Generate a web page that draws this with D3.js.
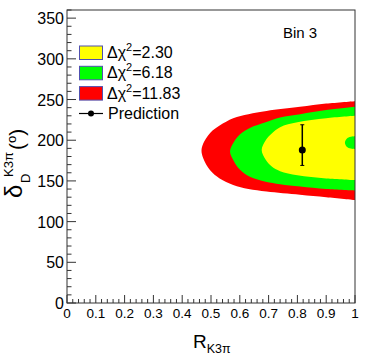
<!DOCTYPE html>
<meta charset="utf-8">
<head>
  <title>Bin 3 contours</title>
  <style>
    body { margin: 0; background: #fff; }
    text { font-family: "Liberation Sans", Arial, sans-serif; fill: #000; }
  </style>
</head>
<body>
<script src="https://cdn.jsdelivr.net/npm/d3@7"></script>
<div id="chart"></div>
<script>

// Contour outlines, as [R, delta] pairs.
// Each one runs along the lower edge from R=1 to the tip, then back along the top.
var red = [[1.0,126.5],[0.90,130],[0.809,133],[0.693,137],[0.63,140],[0.577,145],[0.53,153],[0.497,163],[0.473,178],
           [0.467,187],
           [0.473,196],[0.497,209],[0.53,218],[0.577,227],[0.63,232],[0.693,236],[0.809,241],[0.90,245],[1.0,248]];
var green = [[1.0,138],[0.90,140],[0.81,143],[0.74,146],[0.69,149],[0.635,155],[0.60,164],[0.58,174],
             [0.566,186],
             [0.58,198],[0.60,207],[0.635,215],[0.69,222],[0.74,228],[0.81,232],[0.90,237],[1.0,241]];
var yellow = [[1.0,151],[0.90,153],[0.80,157],[0.74,162],[0.71,168],[0.69,176],
              [0.676,188],
              [0.69,200],[0.71,208],[0.74,216],[0.80,222],[0.90,227],[1.0,230]];
// little green island inside the yellow near R=1
var greenSpot = [[1.0,189],[0.975,191],[0.965,197],[0.975,203],[1.0,205]];

var prediction = {R: 0.817, delta: 188, up: 219, down: 169};

var legendLabels = ["\u0394\u03c7", "\u0394\u03c7", "\u0394\u03c7"];
var legendValues = ["=2.30", "=6.18", "=11.83"];
var legendColors = ["#ffff00", "#00ff00", "#ff0000"];

var xTicks = [0, 0.1, 0.2, 0.3, 0.4, 0.5, 0.6, 0.7, 0.8, 0.9, 1];
var yTicks = [0, 50, 100, 150, 200, 250, 300, 350];

var width = 374, height = 357;
var padL = 67, padR = 355, padT = 10, padB = 303;

var svg = d3.select("#chart").append("svg")
    .attr("width", width)
    .attr("height", height);

var x = d3.scaleLinear().domain([0, 1]).range([padL, padR]);
var y = d3.scaleLinear().domain([0, 360]).range([padB, padT]);

svg.append("clipPath").attr("id", "frame")
  .append("rect").attr("x", padL).attr("y", padT).attr("width", padR - padL).attr("height", padB - padT);

var line = d3.line()
    .x(function(d) { return x(d[0]); })
    .y(function(d) { return y(d[1]); })
    .curve(d3.curveCatmullRom.alpha(0.5));

var plot = svg.append("g").attr("clip-path", "url(#frame)");

[[red, "#ff0000"], [green, "#00ff00"], [yellow, "#ffff00"], [greenSpot, "#00ff00"]].forEach(function(c) {
  plot.append("path")
    .attr("d", line(c[0]) + "Z")
    .attr("fill", c[1]);
});

// prediction point with error bar
var px = x(prediction.R);
svg.append("line").attr("x1", px).attr("x2", px)
  .attr("y1", y(prediction.up)).attr("y2", y(prediction.down))
  .attr("stroke", "#000").attr("stroke-width", 1.5);
[prediction.up, prediction.down].forEach(function(v) {
  svg.append("line").attr("x1", px - 2).attr("x2", px + 2)
    .attr("y1", y(v)).attr("y2", y(v))
    .attr("stroke", "#000").attr("stroke-width", 1);
});
svg.append("circle").attr("cx", px).attr("cy", y(prediction.delta)).attr("r", 3.5).attr("fill", "#000");

// frame
svg.append("rect").attr("x", padL).attr("y", padT)
  .attr("width", padR - padL).attr("height", padB - padT)
  .attr("fill", "none").attr("stroke", "#333").attr("stroke-width", 1);

// y axis ticks (pointing inward)
var yMinor = d3.range(0, 361, 10);
svg.append("g").selectAll("line").data(yMinor).enter().append("line")
  .attr("x1", padL).attr("x2", function(d) { return padL + (d % 50 === 0 ? 9 : 4.5); })
  .attr("y1", function(d) { return y(d); }).attr("y2", function(d) { return y(d); })
  .attr("stroke", "#333");
svg.append("g").selectAll("text").data(yTicks).enter().append("text")
  .attr("x", padL - 3).attr("y", function(d) { return y(d) + 6; })
  .attr("text-anchor", "end").style("font-size", "16px")
  .text(function(d) { return d; });

// x axis ticks
var xMinor = d3.range(0, 51).map(function(i) { return i / 50; });
svg.append("g").selectAll("line").data(xMinor).enter().append("line")
  .attr("x1", function(d) { return x(d); }).attr("x2", function(d) { return x(d); })
  .attr("y1", padB).attr("y2", function(d, i) { return padB - (i % 5 === 0 ? 8 : 4); })
  .attr("stroke", "#333");
svg.append("g").selectAll("text").data(xTicks).enter().append("text")
  .attr("x", function(d) { return x(d); }).attr("y", 318)
  .attr("text-anchor", "middle").style("font-size", "13.5px")
  .text(function(d) { return d; });

// x title
var xt = svg.append("text").attr("x", 193).attr("y", 348);
xt.append("tspan").style("font-size", "19px").text("R");
xt.append("tspan").attr("dy", 5).style("font-size", "12.5px").text("K3\u03c0");

// y title, rotated, centred on the axis
var yt = svg.append("g").attr("transform", "translate(0,198) rotate(-90)");
yt.append("text").attr("x", 0).attr("y", 22).style("font-size", "24px").text("\u03b4");
yt.append("text").attr("x", 15).attr("y", 30).style("font-size", "13px").text("D");
yt.append("text").attr("x", 21).attr("y", 13).style("font-size", "13px").text("K3\u03c0");
var par = yt.append("text").attr("x", 48).attr("y", 24).style("font-size", "21px");
par.append("tspan").text("(");
par.append("tspan").attr("dy", -8).style("font-size", "13px").text("o");
par.append("tspan").attr("dy", 8).text(")");

// Bin label
svg.append("text").attr("x", 283).attr("y", 38).style("font-size", "15px").text("Bin 3");

// legend
var leg = svg.append("g");
legendColors.forEach(function(c, i) {
  var yy = 46 + i * 20.3;
  leg.append("rect").attr("x", 79.5).attr("y", yy).attr("width", 23).attr("height", 13.5)
    .attr("fill", c).attr("stroke", "#5050b0").attr("stroke-width", 1);
  var t = leg.append("text").attr("x", 107).attr("y", yy + 12).style("font-size", "16px");
  t.append("tspan").text(legendLabels[i]);
  t.append("tspan").attr("dy", -7).style("font-size", "11px").text("2");
  t.append("tspan").attr("dy", 7).text(legendValues[i]);
});
leg.append("line").attr("x1", 79).attr("x2", 103).attr("y1", 113.5).attr("y2", 113.5)
  .attr("stroke", "#000").attr("stroke-width", 1.2);
leg.append("circle").attr("cx", 91).attr("cy", 113.5).attr("r", 3).attr("fill", "#000");
leg.append("text").attr("x", 108).attr("y", 119).style("font-size", "16px").text("Prediction");

</script>
</body>
